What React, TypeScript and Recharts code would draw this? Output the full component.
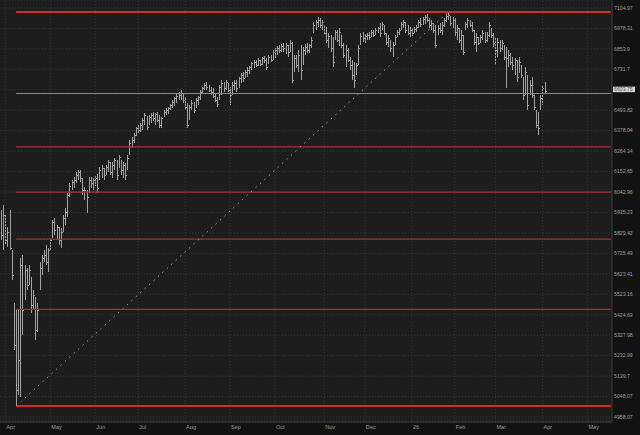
import React from 'react';
import { ComposedChart, Bar, XAxis, YAxis, CartesianGrid, ReferenceLine } from 'recharts';

// trading-day index of first bar (two sessions before Apr 1) and last slot on the axis
const FIRST_INDEX = -2;
const LAST_SLOT = 283;

// daily OHLC, index -2 .. 252
const opens = [
  5897, 5819,
  5907, 5794, 5845, 5733, 5472, 5353, 5090, 5214, 5643, 5520,
  5618, 5594, 5594, 5472, 5496, 5377, 5569, 5643, 5703, 5718,
  5668, 5753, 5819, 5871, 5834, 5845, 5768, 5855, 5897, 6001,
  6028, 6071, 6092, 6108, 6135, 6146, 6108, 6028, 6043, 6054,
  6108, 6081, 6108, 6119, 6119, 6162, 6162, 6151, 6178, 6188,
  6151, 6188, 6205, 6188, 6205, 6151, 6172, 6172, 6271, 6310,
  6327, 6366, 6394, 6382, 6411, 6439, 6456, 6422, 6456, 6461,
  6450, 6467, 6439, 6411, 6467, 6484, 6496, 6507, 6525, 6542,
  6565, 6571, 6583, 6583, 6554, 6519, 6450, 6513, 6525, 6525,
  6554, 6571, 6600, 6624, 6641, 6624, 6611, 6600, 6577, 6554,
  6565, 6624, 6641, 6629, 6641, 6600, 6600, 6641, 6653, 6641,
  6682, 6699, 6688, 6717, 6728, 6746, 6764, 6776, 6764, 6776,
  6770, 6800, 6788, 6776, 6806, 6800, 6836, 6848, 6860, 6848,
  6872, 6860, 6866, 6848, 6884, 6740, 6788, 6764, 6818, 6770,
  6848, 6866, 6848, 6878, 6969, 7000, 7018, 7031, 7000, 6987,
  6951, 6908, 6921, 6878, 6921, 6951, 6908, 6927, 6878, 6818,
  6848, 6788, 6758, 6717, 6717, 6776, 6896, 6933, 6908, 6933,
  6939, 6939, 6951, 6951, 6969, 6981, 6981, 6987, 6939, 6896,
  6896, 6860, 6896, 6939, 6957, 6981, 7006, 7006, 6969, 6951,
  6969, 6957, 6975, 6987, 7018, 7012, 7037, 7049, 7031, 7000,
  7000, 6981, 6951, 6981, 6969, 7000, 7031, 7055, 7049, 7012,
  7031, 6957, 6969, 6908, 6921, 6981, 7006, 7018, 7000, 6957,
  6896, 6921, 6896, 6927, 6951, 6908, 6939, 6969, 6933, 6878,
  6848, 6896, 6866, 6872, 6818, 6806, 6818, 6776, 6758, 6776,
  6717, 6746, 6682, 6594, 6682, 6600, 6653, 6571, 6484, 6411,
  6525, 6583, 6611,
];
const highs = [
  5948, 5975,
  5923, 5860, 5948, 5743, 5482, 5448, 5448, 5703, 5718, 5668,
  5653, 5668, 5608, 5545, 5511, 5482, 5683, 5718, 5743, 5768,
  5753, 5804, 5897, 5907, 5871, 5860, 5855, 5923, 5959, 6038,
  6092, 6108, 6124, 6151, 6162, 6162, 6119, 6071, 6054, 6124,
  6124, 6119, 6130, 6140, 6178, 6188, 6172, 6188, 6216, 6205,
  6205, 6226, 6216, 6243, 6216, 6205, 6199, 6243, 6327, 6344,
  6366, 6399, 6411, 6422, 6450, 6478, 6461, 6467, 6478, 6484,
  6478, 6484, 6467, 6456, 6496, 6507, 6513, 6531, 6554, 6571,
  6588, 6600, 6611, 6594, 6571, 6536, 6525, 6554, 6542, 6565,
  6577, 6611, 6629, 6653, 6658, 6641, 6629, 6624, 6594, 6571,
  6641, 6670, 6658, 6670, 6653, 6629, 6658, 6670, 6670, 6688,
  6711, 6717, 6728, 6746, 6752, 6776, 6788, 6788, 6800, 6788,
  6806, 6812, 6800, 6818, 6818, 6848, 6860, 6872, 6878, 6884,
  6890, 6890, 6878, 6908, 6896, 6818, 6818, 6848, 6878, 6866,
  6884, 6890, 6884, 6927, 7018, 7031, 7049, 7043, 7031, 7000,
  6987, 6951, 6939, 6927, 6969, 6969, 6981, 6939, 6890, 6878,
  6860, 6806, 6788, 6776, 6770, 6878, 6951, 6957, 6945, 6951,
  6957, 6969, 6969, 6981, 6987, 7012, 7018, 7000, 6951, 6939,
  6908, 6896, 6939, 6969, 6981, 7018, 7031, 7018, 7000, 6987,
  6981, 6987, 7000, 7031, 7043, 7049, 7062, 7068, 7043, 7031,
  7012, 7000, 7000, 7012, 7018, 7043, 7068, 7080, 7055, 7049,
  7043, 7000, 6981, 6969, 6939, 7018, 7043, 7031, 7018, 6969,
  6951, 6927, 6939, 6969, 6957, 6957, 7018, 6981, 6951, 6927,
  6921, 6908, 6908, 6878, 6866, 6848, 6830, 6806, 6800, 6788,
  6806, 6758, 6688, 6746, 6699, 6670, 6688, 6583, 6496, 6484,
  6583, 6641, 6658,
];
const lows = [
  5794, 5743,
  5768, 5758, 5743, 5594, 5260, 5006, 5056, 5047, 5329, 5496,
  5545, 5569, 5434, 5448, 5306, 5344, 5545, 5618, 5683, 5668,
  5633, 5743, 5804, 5819, 5794, 5768, 5753, 5834, 5871, 5912,
  6017, 6054, 6065, 6092, 6108, 6098, 6028, 6001, 5933, 6038,
  6065, 6054, 6076, 6038, 6108, 6119, 6108, 6135, 6151, 6135,
  6119, 6162, 6108, 6172, 6135, 6119, 6108, 6162, 6243, 6283,
  6310, 6349, 6366, 6371, 6382, 6411, 6382, 6411, 6422, 6433,
  6411, 6427, 6394, 6394, 6456, 6467, 6473, 6496, 6507, 6519,
  6536, 6554, 6554, 6536, 6496, 6394, 6439, 6496, 6478, 6507,
  6525, 6554, 6594, 6611, 6611, 6600, 6583, 6565, 6542, 6513,
  6554, 6583, 6600, 6611, 6600, 6525, 6583, 6611, 6600, 6624,
  6653, 6658, 6682, 6688, 6705, 6728, 6740, 6746, 6752, 6752,
  6758, 6770, 6728, 6764, 6776, 6788, 6800, 6818, 6830, 6836,
  6836, 6824, 6806, 6836, 6653, 6717, 6740, 6717, 6670, 6758,
  6818, 6830, 6830, 6860, 6951, 6969, 6987, 6981, 6969, 6939,
  6890, 6860, 6836, 6746, 6908, 6896, 6872, 6860, 6800, 6746,
  6776, 6728, 6670, 6624, 6699, 6758, 6878, 6896, 6890, 6908,
  6908, 6927, 6927, 6939, 6951, 6927, 6969, 6939, 6878, 6866,
  6836, 6806, 6878, 6927, 6939, 6969, 6981, 6951, 6939, 6927,
  6933, 6951, 6957, 6981, 6987, 7000, 7006, 7018, 6981, 6969,
  6951, 6860, 6939, 6951, 6939, 6987, 7018, 7031, 6994, 6981,
  6933, 6908, 6890, 6848, 6818, 6969, 6981, 6987, 6957, 6878,
  6836, 6878, 6890, 6908, 6890, 6896, 6927, 6921, 6866, 6758,
  6806, 6836, 6848, 6788, 6624, 6746, 6758, 6728, 6699, 6658,
  6711, 6682, 6554, 6583, 6496, 6583, 6565, 6496, 6394, 6355,
  6496, 6525, 6594,
];
const closes = [
  5819, 5923,
  5794, 5834, 5753, 5618, 5283, 5078, 5214, 5668, 5448, 5643,
  5569, 5643, 5472, 5520, 5353, 5448, 5653, 5703, 5718, 5683,
  5743, 5794, 5886, 5845, 5860, 5794, 5834, 5907, 5938, 6028,
  6076, 6098, 6108, 6135, 6151, 6119, 6054, 6054, 6017, 6108,
  6092, 6108, 6119, 6065, 6162, 6172, 6135, 6178, 6205, 6151,
  6188, 6216, 6135, 6232, 6162, 6188, 6135, 6226, 6310, 6327,
  6355, 6394, 6382, 6411, 6439, 6467, 6399, 6456, 6467, 6450,
  6473, 6439, 6411, 6450, 6484, 6496, 6507, 6525, 6542, 6565,
  6577, 6583, 6594, 6554, 6513, 6411, 6513, 6536, 6496, 6554,
  6571, 6600, 6624, 6641, 6629, 6611, 6600, 6577, 6554, 6531,
  6629, 6653, 6624, 6658, 6611, 6583, 6641, 6653, 6624, 6682,
  6699, 6682, 6717, 6728, 6746, 6770, 6776, 6758, 6788, 6764,
  6800, 6788, 6746, 6806, 6788, 6836, 6848, 6860, 6848, 6872,
  6860, 6878, 6836, 6890, 6670, 6800, 6758, 6818, 6728, 6848,
  6866, 6848, 6878, 6908, 7000, 7018, 7031, 7000, 7018, 6951,
  6908, 6933, 6860, 6776, 6957, 6908, 6957, 6878, 6818, 6848,
  6788, 6758, 6699, 6670, 6758, 6860, 6933, 6921, 6933, 6939,
  6927, 6957, 6939, 6969, 6981, 6951, 7006, 6951, 6896, 6921,
  6860, 6878, 6927, 6957, 6969, 7006, 7018, 6969, 6951, 6969,
  6951, 6975, 6987, 7018, 7006, 7037, 7049, 7031, 7000, 7012,
  6969, 6878, 6981, 6969, 7000, 7031, 7055, 7062, 7012, 7031,
  6957, 6981, 6908, 6939, 6836, 7006, 7031, 7000, 6969, 6896,
  6927, 6890, 6927, 6951, 6908, 6939, 7000, 6939, 6890, 6848,
  6896, 6860, 6890, 6806, 6800, 6818, 6776, 6758, 6788, 6688,
  6776, 6699, 6583, 6717, 6525, 6641, 6583, 6513, 6411, 6394,
  6565, 6624, 6603.75,
];

const monthTickIndex = [0, 21, 42, 62, 84, 105, 126, 149, 168, 190, 210, 229, 251, 272];
const monthTickLabel = ['Apr', 'May', 'Jun', 'Jul', 'Aug', 'Sep', 'Oct', 'Nov', 'Dec', '26', 'Feb', 'Mar', 'Apr', 'May'];

const priceTicks = [
  7104.97, 6978.31, 6853.9, 6731.7, 6611.69, 6493.82, 6378.04, 6264.34, 6152.65, 6042.96,
  5935.23, 5829.42, 5725.49, 5623.41, 5523.16, 5424.69, 5327.98, 5232.99, 5139.7, 5048.07, 4958.07,
];
const hiddenTick = 6611.69;
const yDomain = [4936.3, 7155.1];

// Fibonacci retracement levels (0, 23.6, 38.2, 50, 61.8, 78.6, 100 %)
const fibLevels = [7080, 6590, 6288, 6043, 5798, 5450, 5006];
const fibKinds = ['edge', 'gray', 'mid', 'mid', 'mid', 'mid', 'edge'];
const swingLowIndex = 5;
const swingLowPrice = 5006;
const swingHighIndex = 207;
const swingHighPrice = 7080;
const lastPrice = 6603.75;

const rows: any[] = [];
for (let k = 0; k <= LAST_SLOT - FIRST_INDEX; k++) {
  const idx = FIRST_INDEX + k;
  if (k < opens.length) {
    rows.push({ idx, range: [lows[k], highs[k]], o: opens[k], h: highs[k], l: lows[k], c: closes[k] });
  } else {
    rows.push({ idx, range: null });
  }
}

const FONT = 'Liberation Sans, Arial, sans-serif';
const BAR_COLOR = '#a2a2a2';

const OhlcShape = (props: any) => {
  const { x, y, width, height, payload } = props;
  if (!payload || payload.h == null || height == null) return null;
  const cx = Math.round(x + width / 2) + 0.5;
  const lh = Math.log(payload.h);
  const ll = Math.log(payload.l);
  const span = lh - ll || 1;
  const yOf = (v: number) => y + (height * (lh - Math.log(v))) / span;
  const yo = Math.round(yOf(payload.o)) + 0.5;
  const yc = Math.round(yOf(payload.c)) + 0.5;
  return (
    <g stroke={BAR_COLOR} strokeWidth={1} shapeRendering="crispEdges">
      <line x1={cx} x2={cx} y1={y} y2={y + Math.max(height, 1)} />
      <line x1={cx - 1} x2={cx} y1={yo} y2={yo} />
      <line x1={cx} x2={cx + 1} y1={yc} y2={yc} />
    </g>
  );
};

const PriceTick = (props: any) => {
  const { x, y, payload } = props;
  if (payload.value === hiddenTick) return <g />;
  return (
    <text x={x} y={y} dy={1.8} fontSize={5.2} fill="#a0a0a0" fontFamily={FONT} textAnchor="start">
      {payload.value}
    </text>
  );
};

const MonthTick = (props: any) => {
  const { x, y, payload } = props;
  const pos = monthTickIndex.indexOf(payload.value);
  if (pos < 0) return <g />;
  return (
    <text x={x + 1} y={y + 7.3} fontSize={5.6} fill="#9a9a9a" fontFamily={FONT} textAnchor="start">
      {monthTickLabel[pos]}
    </text>
  );
};

const PriceLabel = (props: any) => {
  const vb = props.viewBox || {};
  const x0 = (vb.x || 0) + (vb.width || 0) + 1;
  const yy = vb.y || 0;
  return (
    <g>
      <rect x={x0} y={yy - 4.5} width={22} height={5.5} fill="#d6d6d6" />
      <text x={x0 + 1} y={yy - 1.7} dy={1.8} fontSize={5.2} fill="#505050" fontFamily={FONT}>
        {lastPrice}
      </text>
    </g>
  );
};

const fibStyle = (kind: string) => {
  if (kind === 'edge') return { stroke: '#d62b2b', strokeWidth: 2 };
  if (kind === 'gray') return { stroke: '#7f8e99', strokeWidth: 1 };
  return { stroke: '#a8302e', strokeWidth: 1.3 };
};

export default function App() {
  return (
    <div style={{ position: 'absolute', left: 0, top: 0, width: 640, height: 435, background: '#121212' }}>
      <ComposedChart
        width={640}
        height={435}
        data={rows}
        margin={{ top: 0, right: 0, bottom: 0, left: 0 }}
        barCategoryGap={0}
      >
        <CartesianGrid fill="#1d1d1d" vertical={false} stroke="#363636" strokeDasharray="1 2" />
        <XAxis
          dataKey="idx"
          type="category"
          interval={0}
          height={13}
          tickSize={0}
          tickMargin={0}
          tickLine={false}
          axisLine={{ stroke: '#3c3c3c' }}
          tick={MonthTick}
        />
        <YAxis
          orientation="right"
          width={28}
          scale="log"
          domain={yDomain}
          allowDataOverflow
          ticks={priceTicks}
          interval={0}
          tickSize={0}
          tickMargin={2}
          tickLine={false}
          axisLine={{ stroke: '#3c3c3c' }}
          tick={PriceTick}
        />
        {monthTickIndex.map((m) => (
          <ReferenceLine key={'v' + m} x={m} stroke="#363636" strokeDasharray="1 2" />
        ))}
        {fibLevels.map((lvl, i) => (
          <ReferenceLine
            key={'f' + i}
            segment={[{ x: swingLowIndex, y: lvl }, { x: LAST_SLOT, y: lvl }]}
            {...fibStyle(fibKinds[i])}
          />
        ))}
        <ReferenceLine
          segment={[{ x: swingLowIndex, y: swingLowPrice }, { x: swingHighIndex, y: swingHighPrice }]}
          stroke="#a0a0a0"
          strokeDasharray="1.5 4.5"
        />
        <Bar dataKey="range" shape={OhlcShape} isAnimationActive={false} />
        <ReferenceLine y={lastPrice} stroke="none" label={PriceLabel} />
      </ComposedChart>
    </div>
  );
}
